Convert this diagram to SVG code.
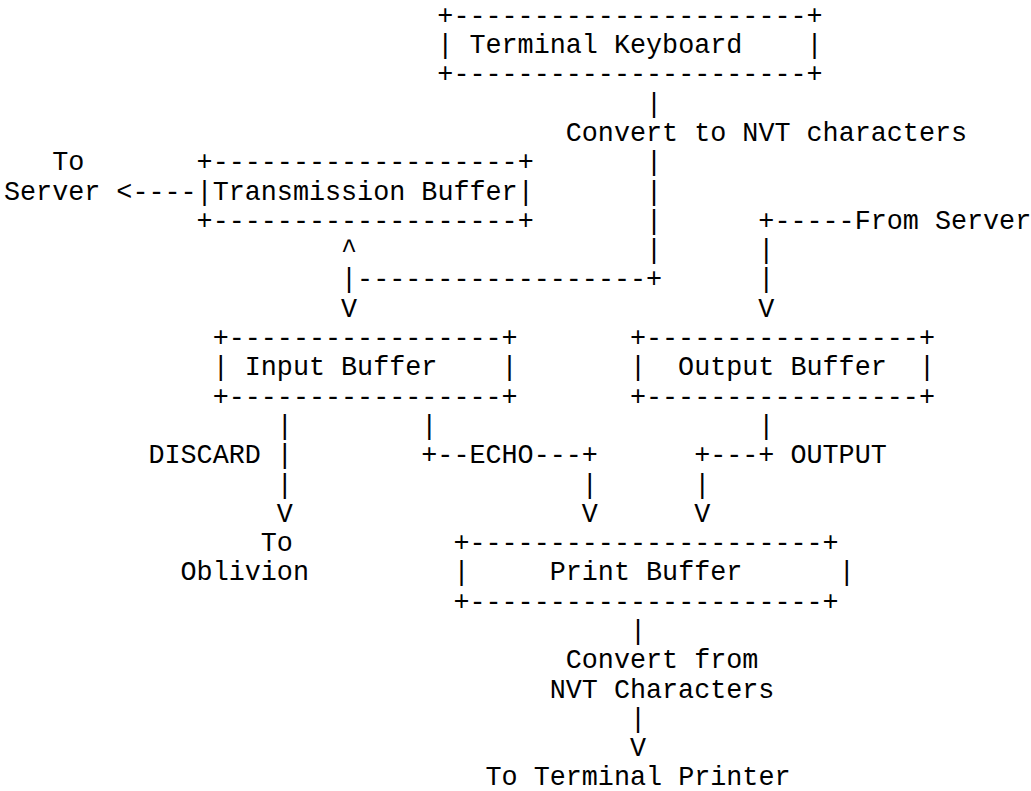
<svg xmlns="http://www.w3.org/2000/svg" width="1031" height="791" viewBox="0 0 1031 791">
<style>
text { font-family: "Liberation Mono", "Courier New", monospace; font-size: 26.75px; fill: #000; white-space: pre; }
</style>
<rect width="1031" height="791" fill="#fff"/>
<g id="terminal-keyboard" xml:space="preserve">
<text x="437.35" y="23.7">+----------------------+</text>
<text x="437.35" y="53">| Terminal Keyboard    |</text>
<text x="437.35" y="82.3">+----------------------+</text>
</g>
<g id="transmission-buffer" xml:space="preserve">
<text x="196.6" y="170.2">+-------------------+</text>
<text x="196.6" y="199.5">|Transmission Buffer|</text>
<text x="196.6" y="228.8">+-------------------+</text>
</g>
<g id="input-buffer" xml:space="preserve">
<text x="212.65" y="346">+-----------------+</text>
<text x="212.65" y="375.3">| Input Buffer    |</text>
<text x="212.65" y="404.6">+-----------------+</text>
</g>
<g id="output-buffer" xml:space="preserve">
<text x="629.95" y="346">+-----------------+</text>
<text x="629.95" y="375.3">|  Output Buffer  |</text>
<text x="629.95" y="404.6">+-----------------+</text>
</g>
<g id="print-buffer" xml:space="preserve">
<text x="453.4" y="551.1">+----------------------+</text>
<text x="453.4" y="580.4">|     Print Buffer      |</text>
<text x="453.4" y="609.7">+----------------------+</text>
</g>
<g id="endpoints" xml:space="preserve">
<text x="52.15" y="170.2">To</text>
<text x="4" y="199.5">Server</text>
<text x="854.65" y="228.8">From Server</text>
<text x="260.8" y="551.1">To</text>
<text x="180.55" y="580.4">Oblivion</text>
<text x="485.5" y="784.5">To Terminal Printer</text>
</g>
<g id="connectors" xml:space="preserve">
<text x="646" y="111.6">|</text>
<text x="565.75" y="140.9">Convert to NVT characters</text>
<text x="646" y="170.2">|</text>
<text x="116.35" y="199.5">&lt;----</text>
<text x="646" y="199.5">|</text>
<text x="646" y="228.8">|</text>
<text x="758.35" y="228.8">+-----</text>
<text x="341.05" y="258.1">^</text>
<text x="646" y="258.1">|</text>
<text x="758.35" y="258.1">|</text>
<text x="341.05" y="287.4">|------------------+</text>
<text x="758.35" y="287.4">|</text>
<text x="341.05" y="316.7">V</text>
<text x="758.35" y="316.7">V</text>
<text x="276.85" y="433.9">|</text>
<text x="421.3" y="433.9">|</text>
<text x="758.35" y="433.9">|</text>
<text x="148.45" y="463.2">DISCARD |</text>
<text x="421.3" y="463.2">+--ECHO---+</text>
<text x="694.15" y="463.2">+---+ OUTPUT</text>
<text x="276.85" y="492.5">|</text>
<text x="581.8" y="492.5">|</text>
<text x="694.15" y="492.5">|</text>
<text x="276.85" y="521.8">V</text>
<text x="581.8" y="521.8">V</text>
<text x="694.15" y="521.8">V</text>
<text x="629.95" y="639">|</text>
<text x="565.75" y="668.3">Convert from</text>
<text x="549.7" y="697.6">NVT Characters</text>
<text x="629.95" y="726.9">|</text>
<text x="629.95" y="756.2">V</text>
</g>
</svg>
